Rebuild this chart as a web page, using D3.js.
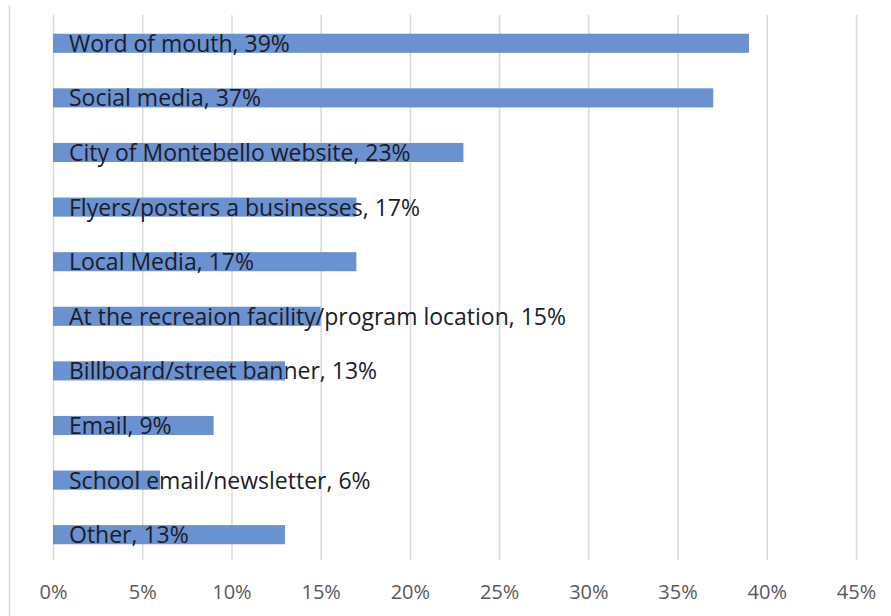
<!DOCTYPE html>
<html><head><meta charset="utf-8">
<script src="https://cdn.jsdelivr.net/npm/d3@7"></script>
<style>body{margin:0;background:#fff}svg{display:block}</style>
</head><body>
<svg id="c" width="891" height="616"></svg>
<script>
const categories = ["Word of mouth","Social media","City of Montebello website","Flyers/posters a businesses","Local Media","At the recreaion facility/program location","Billboard/street banner","Email","School email/newsletter","Other"];
const values = [39,37,23,17,17,15,13,9,6,13];
const ticks = [0,5,10,15,20,25,30,35,40,45];

const svg = d3.select("#c");
const x = d3.scaleLinear().domain([0,45]).range([53,856]);
const y = d3.scaleBand().domain(categories).range([16,562]).paddingInner(0.65).paddingOuter(0.325);

svg.append("line").attr("x1",9.5).attr("x2",9.5).attr("y1",6).attr("y2",616).attr("stroke","#d9d9d9").attr("stroke-width",1.5);

const ax = d3.axisBottom(x).tickValues(ticks).tickFormat(d=>d+"%").tickSize(-(560-15)).tickPadding(25);
const g = svg.append("g").attr("transform","translate(0,560)").call(ax);
g.select(".domain").remove();
g.selectAll(".tick line").attr("stroke","#d9d9d9").attr("stroke-width",1.5);
g.selectAll(".tick text").attr("fill","#595959").attr("font-family","'Open Sans', sans-serif").attr("font-size","20px");

svg.selectAll("rect.bar").data(categories).join("rect").attr("class","bar")
  .attr("x",x(0)).attr("y",d=>y(d)).attr("height",y.bandwidth())
  .attr("width",(d,i)=>x(values[i])-x(0)).attr("fill","#6a91d0");

svg.selectAll("text.lab").data(categories).join("text").attr("class","lab")
  .attr("x",69).attr("y",d=>y(d)+y.bandwidth()/2+8.5)
  .attr("font-family","'Open Sans', sans-serif").attr("font-size","23px").attr("fill","#1c1c28")
  .text((d,i)=>d+", "+values[i]+"%");
</script>
</body></html>
